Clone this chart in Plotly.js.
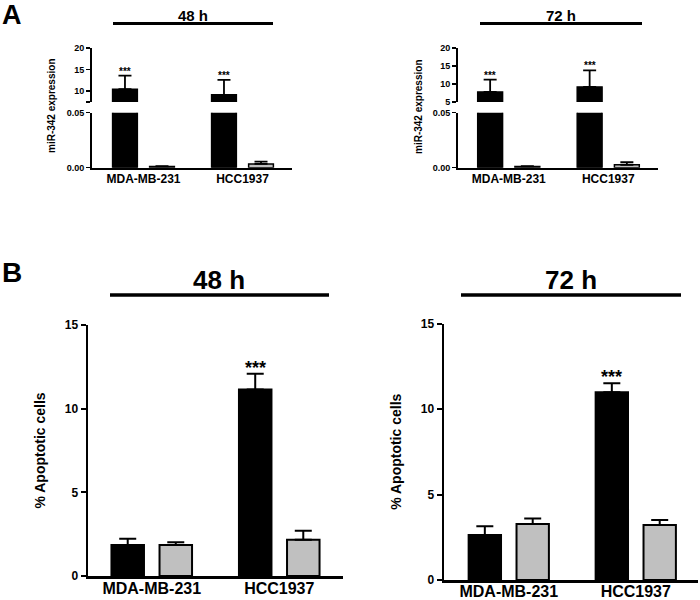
<!DOCTYPE html>
<html><head><meta charset="utf-8">
<script src="https://cdn.plot.ly/plotly-3.0.1.min.js"></script>
<style>html,body{margin:0;padding:0;background:#fff}#chart{width:700px;height:600px}</style>
</head><body><div id="chart"></div>
<script>
// ---- data ----
const categories = ['MDA-MB-231', 'HCC1937'];
const timeLabels = ['48 h', '72 h'];
const panelLetters = ['A', 'B'];
const exprTitle = 'miR-342 expression';
const apopTitle = '% Apoptotic cells';
const sigLabels = ['***', '***'];

// Panel A: miR-342 expression (black = first group, grey = second group)
const exprBlack48 = [10.45, 9.16];
const exprBlack48Err = [3.15, 3.45];
const exprGrey48 = [0.0012, 0.0034];
const exprGrey48Err = [0.0002, 0.0021];
const exprBlack72 = [7.8, 9.2];
const exprBlack72Err = [3.4, 4.6];
const exprGrey72 = [0.0012, 0.0027];
const exprGrey72Err = [0.0002, 0.0023];

// Panel B: % apoptotic cells
const apopBlack48 = [1.86, 11.14];
const apopBlack48Err = [0.36, 0.94];
const apopGrey48 = [1.86, 2.16];
const apopGrey48Err = [0.16, 0.54];
const apopBlack72 = [2.63, 10.98];
const apopBlack72Err = [0.51, 0.52];
const apopGrey72 = [3.27, 3.22];
const apopGrey72Err = [0.33, 0.29];

// ---- styling ----
const FONT = 'Arial, "Liberation Sans", sans-serif';
const BLACK = '#000000';
const GREY = '#c0c0c0';

function barTrace(y, err, color, xa, ya, opt) {
  return {
    type: 'bar', x: categories, y: y, xaxis: xa, yaxis: ya,
    width: opt.width, offset: color === BLACK ? opt.offBlack : opt.offGrey,
    marker: {color: color, line: {color: BLACK, width: opt.lw}},
    error_y: {type: 'data', symmetric: false, array: err, arrayminus: y.map(() => 0),
              color: BLACK, thickness: opt.et, width: opt.ew, visible: true},
    hoverinfo: 'y', showlegend: false
  };
}
const optA = {width: 0.25, offBlack: -0.312, offGrey: 0.062, lw: 1.5, et: 1.8, ew: 6.5};
const optB = {width: 0.255, offBlack: -0.316, offGrey: 0.061, lw: 2, et: 2, ew: 8.5};

const traces = [
  // A 48 h lower / upper
  barTrace(exprBlack48, exprBlack48Err, BLACK, 'x', 'y', optA),
  barTrace(exprGrey48, exprGrey48Err, GREY, 'x', 'y', optA),
  barTrace(exprBlack48, exprBlack48Err, BLACK, 'x', 'y2', optA),
  barTrace(exprGrey48, exprGrey48Err, GREY, 'x', 'y2', optA),
  // A 72 h lower / upper
  barTrace(exprBlack72, exprBlack72Err, BLACK, 'x2', 'y3', optA),
  barTrace(exprGrey72, exprGrey72Err, GREY, 'x2', 'y3', optA),
  barTrace(exprBlack72, exprBlack72Err, BLACK, 'x2', 'y4', optA),
  barTrace(exprGrey72, exprGrey72Err, GREY, 'x2', 'y4', optA),
  // B
  barTrace(apopBlack48, apopBlack48Err, BLACK, 'x3', 'y5', optB),
  barTrace(apopGrey48, apopGrey48Err, GREY, 'x3', 'y5', optB),
  barTrace(apopBlack72, apopBlack72Err, BLACK, 'x4', 'y6', optB),
  barTrace(apopGrey72, apopGrey72Err, GREY, 'x4', 'y6', optB)
];

const px = v => v / 700;
const py = v => 1 - v / 600;

function xAx(dom, anchor, range, size, standoff) {
  return {domain: [px(dom[0]), px(dom[1])], anchor: anchor, range: range, type: 'category',
    showline: true, linecolor: BLACK, linewidth: size > 13 ? 2.5 : 2, ticks: '', showgrid: false, zeroline: false,
    ticklabelstandoff: standoff,
    tickfont: {family: FONT, size: size, color: BLACK, weight: 700}, fixedrange: true};
}
function yAx(dom, anchor, range, size, extra) {
  return Object.assign({domain: [py(dom[1]), py(dom[0])], anchor: anchor, range: range,
    showline: true, linecolor: BLACK, linewidth: size > 10 ? 2.5 : 2, ticks: 'outside', ticklen: size > 10 ? 5 : 4,
    tickwidth: size > 10 ? 2 : 1.5, tickcolor: BLACK, showgrid: false, zeroline: false,
    tickfont: {family: FONT, size: size, color: BLACK, weight: 700}, fixedrange: true}, extra || {});
}

const layout = {
  width: 700, height: 600, margin: {l: 0, r: 0, t: 0, b: 0},
  paper_bgcolor: '#fff', plot_bgcolor: 'rgba(0,0,0,0)', showlegend: false, barmode: 'group',
  font: {family: FONT, color: BLACK},
  xaxis: xAx([92, 292], 'y', [-0.52, 1.5], 12, -1),
  yaxis: yAx([112.7, 167.7], 'x', [0, 0.05], 9, {tickvals: [0, 0.05], tickformat: '.2f'}),
  yaxis2: yAx([48, 102], 'x', [7.5, 20], 9, {tickvals: [7.5, 10, 15, 20], ticktext: ['', '10', '15', '20']}),
  xaxis2: xAx([458, 658], 'y3', [-0.51, 1.5], 12, -1),
  yaxis3: yAx([112.7, 167.7], 'x2', [0, 0.05], 9, {tickvals: [0, 0.05], tickformat: '.2f'}),
  yaxis4: yAx([48, 102], 'x2', [5, 20], 9, {tickvals: [5, 10, 15, 20]}),
  xaxis3: xAx([88, 343], 'y5', [-0.5, 1.5], 16, -4),
  yaxis5: yAx([325, 576], 'x3', [0, 15], 12, {tickvals: [0, 5, 10, 15],
    title: {text: apopTitle, font: {family: FONT, size: 14, color: BLACK, weight: 700}, standoff: 16}}),
  xaxis4: xAx([444, 698], 'y6', [-0.51, 1.49], 16, -5),
  yaxis6: yAx([323.5, 580], 'x4', [0, 15], 12, {tickvals: [0, 5, 10, 15],
    title: {text: apopTitle, font: {family: FONT, size: 14, color: BLACK, weight: 700}, standoff: 16}}),
  shapes: [
    {type: 'line', xref: 'paper', yref: 'paper', x0: px(113), x1: px(273), y0: py(23.5), y1: py(23.5), line: {color: BLACK, width: 3}},
    {type: 'line', xref: 'paper', yref: 'paper', x0: px(480), x1: px(642), y0: py(23.5), y1: py(23.5), line: {color: BLACK, width: 3}},
    {type: 'line', xref: 'paper', yref: 'paper', x0: px(110), x1: px(329), y0: py(295), y1: py(295), line: {color: BLACK, width: 3.5}},
    {type: 'line', xref: 'paper', yref: 'paper', x0: px(461), x1: px(681), y0: py(295), y1: py(295), line: {color: BLACK, width: 3.5}}
  ],
  annotations: []
};

const ann = layout.annotations;
function txt(text, x, y, size, extra) {
  ann.push(Object.assign({text: text, xref: 'paper', yref: 'paper', x: px(x), y: py(y), showarrow: false,
    xanchor: 'center', yanchor: 'middle', font: {family: FONT, size: size, color: BLACK, weight: 700}}, extra || {}));
}
// panel letters
txt(panelLetters[0], 12, 15, 27);
txt(panelLetters[1], 12, 272, 28);
// time headers
txt(timeLabels[0], 192.5, 15, 15);
txt(timeLabels[1], 560.5, 15, 15);
txt(timeLabels[0], 219, 280, 26);
txt(timeLabels[1], 571, 280, 26);
// A y titles
txt(exprTitle, 52, 106, 10, {textangle: -90});
txt(exprTitle, 418, 107, 10, {textangle: -90});

// significance stars on black bars
function stars(vals, errs, xa, ya, opt, size, shift) {
  vals.forEach((v, i) => {
    ann.push({text: sigLabels[i], xref: xa, yref: ya, x: i + opt.offBlack + opt.width / 2, y: v + errs[i],
      showarrow: false, xanchor: 'center', yanchor: 'bottom', yshift: shift,
      font: {family: FONT, size: size, color: BLACK, weight: 700}});
  });
}
stars(exprBlack48, exprBlack48Err, 'x', 'y2', optA, 10, -3);
stars(exprBlack72, exprBlack72Err, 'x2', 'y4', optA, 10, -3);
stars([apopBlack48[1]], [apopBlack48Err[1]], 'x3', 'y5', {offBlack: optB.offBlack + 1, width: optB.width}, 18, -6);
stars([apopBlack72[1]], [apopBlack72Err[1]], 'x4', 'y6', {offBlack: optB.offBlack + 1, width: optB.width}, 18, -6);

Plotly.newPlot('chart', traces, layout, {displayModeBar: false, staticPlot: true});
</script>
</body></html>
